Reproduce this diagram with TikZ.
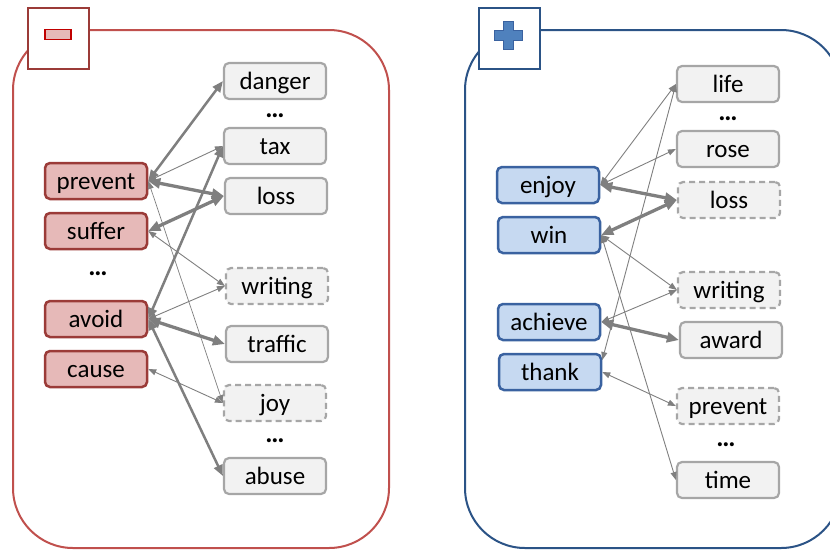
\documentclass[tikz,border=0pt]{standalone}
\usepackage{fontspec}
\setmainfont{Carlito}
\usetikzlibrary{arrows.meta}

\definecolor{negframe}{HTML}{C0504D}
\definecolor{negdraw}{HTML}{9B3B38}
\definecolor{negfill}{HTML}{E6B9B8}
\definecolor{negmark}{HTML}{C00000}
\definecolor{posframe}{HTML}{2B5386}
\definecolor{posdraw}{HTML}{3A62A0}
\definecolor{posfill}{HTML}{C6D9F1}
\definecolor{posmark}{HTML}{4F81BD}
\definecolor{wordfill}{HTML}{F2F2F2}
\definecolor{worddraw}{HTML}{A6A6A6}
\definecolor{linkgray}{HTML}{7F7F7F}

\begin{document}
\begin{tikzpicture}[x=1pt,y=-1pt,
  box/.style={rounded corners=5pt, line width=2pt, minimum height=36pt,
    inner sep=0pt, text height=19pt, text depth=3pt, font=\fontsize{25}{29}\selectfont},
  negword/.style={box, fill=negfill, draw=negdraw, line width=2.5pt, minimum width=102pt},
  posword/.style={box, fill=posfill, draw=posdraw, line width=2.5pt, minimum width=102pt},
  word/.style={box, fill=wordfill, draw=worddraw, line width=2.2pt, minimum width=102pt},
  dashword/.style={word, dash pattern=on 6pt off 4pt},
  gap/.style={inner sep=0pt, anchor=base, font=\fontsize{27}{30}\selectfont\bfseries},
  frame/.style={line width=2pt, rounded corners=60pt},
  badge/.style={fill=white, line width=2pt, minimum width=61pt, minimum height=61pt, inner sep=0pt},
  thinlink/.style={draw=linkgray, line width=0.9pt,
    {Triangle[length=8pt,width=6pt]}-{Triangle[length=8pt,width=6pt]}},
  midlink/.style={draw=linkgray, line width=2.5pt,
    {Triangle[length=11pt,width=9pt]}-{Triangle[length=11pt,width=9pt]}},
  thicklink/.style={draw=linkgray, line width=3.3pt,
    {Triangle[length=12pt,width=10pt]}-{Triangle[length=12pt,width=10pt]}}
]
\useasboundingbox (0,0) rectangle (830,550);

% panel frames (the right one runs past the page edge)
\begin{scope}
  \clip (0,0) rectangle (830,550);
  \draw[frame, negframe] (13,30) rectangle (389,548);
  \draw[frame, posframe] (465,30) rectangle (841,548);
\end{scope}

% badges
\node[badge, draw=negdraw] (negbadge) at (58,38.5) {};
\node[fill=negfill, draw=negmark, line width=1.6pt, minimum width=26pt, minimum height=10pt, inner sep=0pt] (minus) at (58,34.5) {};
\node[badge, draw=posframe] (posbadge) at (509.5,38.5) {};
\draw[fill=posmark, draw=posdraw, line width=1.4pt, shift={(508.5,35.5)}]
  (-5,-14) -- (5,-14) -- (5,-5) -- (14,-5) -- (14,5) -- (5,5) -- (5,14)
  -- (-5,14) -- (-5,5) -- (-14,5) -- (-14,-5) -- (-5,-5) -- cycle;

% negative side: verbs
\node[negword] (prevent) at (96,181) {prevent};
\node[negword] (suffer)  at (96,231) {suffer};
\node[gap]     (ngapa)   at (98,275) {…};
\node[negword] (avoid)   at (96,319) {avoid};
\node[negword] (cause)   at (96,369) {cause};

% negative side: objects
\node[word]     (danger)  at (275,81)  {danger};
\node[gap]      (ngapb)   at (275,117) {…};
\node[word]     (tax)     at (275,146) {tax};
\node[word]     (nloss)   at (276,196) {loss};
\node[dashword] (nwriting) at (277,286) {writing};
\node[word]     (traffic) at (277,344) {traffic};
\node[dashword] (joy)     at (275,403) {joy};
\node[gap]      (ngapc)   at (275,442) {…};
\node[word]     (abuse)   at (275,476) {abuse};

% positive side: verbs
\node[posword] (enjoy)   at (548,185) {enjoy};
\node[posword] (win)     at (549,235) {win};
\node[posword] (achieve) at (549,322) {achieve};
\node[posword] (thank)   at (550,372) {thank};

% positive side: objects
\node[word]     (life)     at (728,84)  {life};
\node[gap]      (pgapa)    at (728,120) {…};
\node[word]     (rose)     at (728,149) {rose};
\node[dashword] (ploss)    at (729,200) {loss};
\node[dashword] (pwriting) at (729,290) {writing};
\node[word]     (award)    at (731,340) {award};
\node[dashword] (pprevent) at (728,406) {prevent};
\node[gap]      (pgapb)    at (726,446) {…};
\node[word]     (time)     at (728,480) {time};

% negative links
\draw[midlink]   (prevent.east) -- (danger.west);
\draw[thinlink]  (prevent.east) -- (tax.west);
\draw[thicklink] (prevent.east) -- (nloss.west);
\draw[thinlink, line width=0.7pt] (prevent.east) -- (joy.west);
\draw[thicklink] (suffer.east) -- (nloss.west);
\draw[thinlink]  (suffer.east) -- (nwriting.west);
\draw[midlink]   (avoid.east) -- (tax.west);
\draw[thinlink]  (avoid.east) -- (nwriting.west);
\draw[thicklink] (avoid.east) -- (traffic.west);
\draw[midlink]   (avoid.east) -- (abuse.west);
\draw[thinlink]  (cause.east) -- (joy.west);

% positive links
\draw[thinlink]  (enjoy.east) -- (life.west);
\draw[thinlink]  (enjoy.east) -- (rose.west);
\draw[thicklink] (enjoy.east) -- (ploss.west);
\draw[thicklink] (win.east) -- (ploss.west);
\draw[thinlink]  (win.east) -- (pwriting.west);
\draw[thinlink]  (win.east) -- (time.west);
\draw[thinlink]  (achieve.east) -- (pwriting.west);
\draw[thicklink] (achieve.east) -- (award.west);
\draw[thinlink]  ([yshift=12pt]thank.east) -- (life.west);
\draw[thinlink]  (thank.east) -- (pprevent.west);
\end{tikzpicture}
\end{document}
